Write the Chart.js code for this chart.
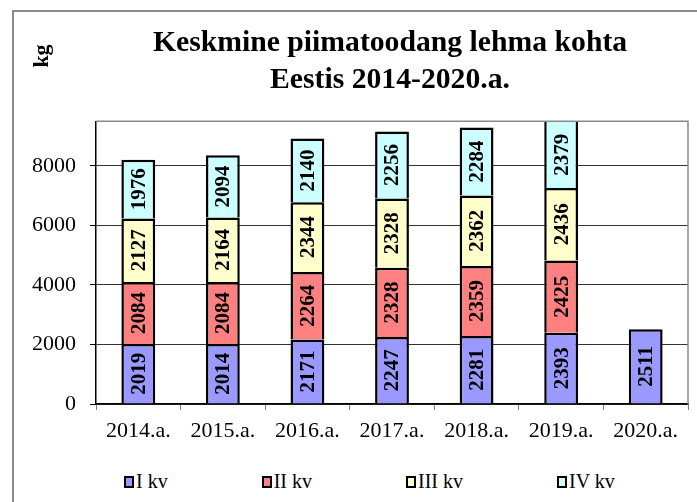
<!DOCTYPE html>
<html>
<head>
<meta charset="utf-8">
<script src="https://cdn.jsdelivr.net/npm/chart.js@4/dist/chart.umd.min.js"></script>
<style>
  html, body { margin: 0; padding: 0; background: #fff; overflow: hidden; }
  #wrap { position: relative; width: 697px; height: 502px; overflow: hidden; }
  #frame { position: absolute; left: 12px; top: 10px; width: 800px; height: 600px; border: 2px solid #8a8a8a; box-sizing: border-box; }
  #c { position: absolute; left: 0; top: 0; }
  #legend { position: absolute; left: 124px; top: 470px; display: flex; column-gap: 94px;
            font: 20px/23px "Liberation Serif", "Times New Roman", serif; color: #000; }
  #legend .item { display: flex; align-items: center; }
  #legend .box { width: 10px; height: 12px; border: 2px solid #000; box-sizing: border-box; margin-right: 2px; }
</style>
</head>
<body>
<div id="wrap">
  <div id="frame"></div>
  <canvas id="c" width="780" height="460"></canvas>
  <div id="legend"></div>
</div>
<script>
const years = ["2014.a.", "2015.a.", "2016.a.", "2017.a.", "2018.a.", "2019.a.", "2020.a."];
const kv1 = [2019, 2014, 2171, 2247, 2281, 2393, 2511];
const kv2 = [2084, 2084, 2264, 2328, 2359, 2425, null];
const kv3 = [2127, 2164, 2344, 2328, 2362, 2436, null];
const kv4 = [1976, 2094, 2140, 2256, 2284, 2379, null];
const seriesNames = ["I kv", "II kv", "III kv", "IV kv"];
const yTicks = [0, 2000, 4000, 6000, 8000];

const colors = ["#9999FF", "#FF8080", "#FFFFCC", "#CCFFFF"];
const serif = '"Liberation Serif", "Times New Roman", serif';

// grey frame on top / right of the plot, then the rotated value labels
const barLabels = {
  id: "barLabels",
  afterDatasetsDraw(chart) {
    const { ctx, chartArea: a } = chart;
    ctx.save();
    ctx.strokeStyle = "#8a8a8a";
    ctx.lineWidth = 1.5;
    ctx.beginPath();
    ctx.moveTo(a.left, a.top);
    ctx.lineTo(a.right, a.top);
    ctx.lineTo(a.right, a.bottom);
    ctx.stroke();

    ctx.fillStyle = "#000";
    ctx.font = "bold 21px " + serif;
    ctx.textAlign = "center";
    ctx.textBaseline = "middle";
    chart.data.datasets.forEach((ds, i) => {
      chart.getDatasetMeta(i).data.forEach((el, j) => {
        const v = ds.data[j];
        if (v == null) return;
        const { x, y, base } = el.getProps(["x", "y", "base"], true);
        const top = Math.max(Math.min(y, base), a.top);
        const bot = Math.min(Math.max(y, base), a.bottom);
        ctx.save();
        ctx.translate(x, (top + bot) / 2);
        ctx.rotate(-Math.PI / 2);
        ctx.fillText(String(v), 0, 1);
        ctx.restore();
      });
    });

    ctx.font = "bold 22px " + serif;
    ctx.translate(42, 56);
    ctx.rotate(-Math.PI / 2);
    ctx.fillText("kg", 0, 0);
    ctx.restore();
  }
};

const chart = new Chart(document.getElementById("c"), {
  type: "bar",
  data: {
    labels: years,
    datasets: [kv1, kv2, kv3, kv4].map((d, i) => ({
      label: seriesNames[i],
      data: d,
      backgroundColor: colors[i],
      borderColor: "#000",
      borderWidth: 2.5,
      barPercentage: 0.4,
      categoryPercentage: 1,
      yAxisID: "y"
    }))
  },
  options: {
    responsive: false,
    animation: false,
    devicePixelRatio: 1,
    layout: { padding: { left: 12, right: 12, top: 0, bottom: 11 } },
    plugins: {
      legend: { display: false },
      tooltip: { enabled: false },
      title: {
        display: true,
        text: ["Keskmine piimatoodang lehma kohta", "Eestis 2014-2020.a."],
        color: "#000",
        font: { family: serif, size: 29.7, weight: "bold", lineHeight: 1.25 },
        padding: { top: 24.5, bottom: 22.5 }
      }
    },
    scales: {
      x: {
        stacked: true,
        grid: { drawOnChartArea: false, tickLength: 6, tickColor: "#808080", offset: true },
        border: { color: "#000", width: 1.5 },
        ticks: { color: "#000", font: { family: serif, size: 22 }, padding: 8, maxRotation: 0 },
        afterFit(s) { s.height = 45; }
      },
      y: {
        stacked: true,
        min: 0,
        max: 9500,
        grid: { color: "#333", tickLength: 6, tickColor: "#000" },
        border: { color: "#000", width: 1.5 },
        ticks: { color: "#000", font: { family: serif, size: 22 }, padding: 14, callback: v => String(v) },
        afterBuildTicks(s) { s.ticks = yTicks.map(v => ({ value: v })); },
        afterFit(s) { s.width = 84; }
      },
      y2: {
        position: "right",
        grid: { display: false },
        border: { display: false },
        ticks: { display: false },
        afterFit(s) { s.width = 80; }
      }
    }
  },
  plugins: [barLabels]
});

// legend as html, built from the datasets
const leg = document.getElementById("legend");
chart.data.datasets.forEach(ds => {
  const it = document.createElement("div");
  it.className = "item";
  const b = document.createElement("span");
  b.className = "box";
  b.style.background = ds.backgroundColor;
  const t = document.createElement("span");
  t.textContent = ds.label;
  it.appendChild(b);
  it.appendChild(t);
  leg.appendChild(it);
});
</script>
</body>
</html>
